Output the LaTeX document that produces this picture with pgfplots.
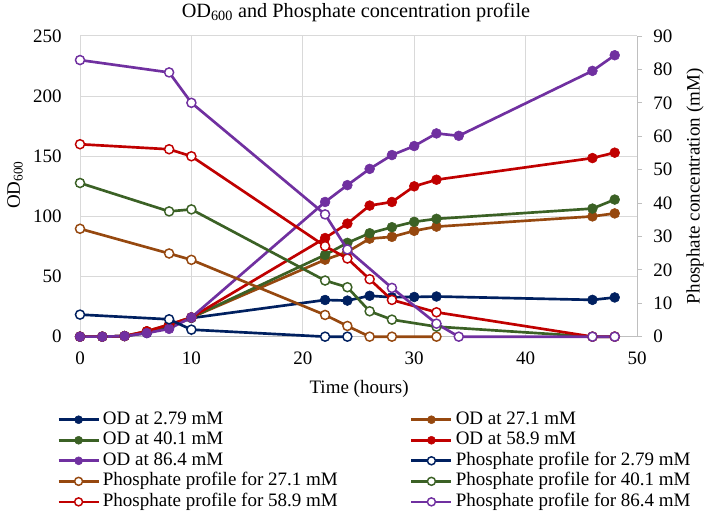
\documentclass[border=0pt]{standalone}
\usepackage{fontspec}
\setmainfont{Liberation Serif}
\usepackage{pgfplots}
\pgfplotsset{compat=1.18}
\definecolor{cNavy}{HTML}{002060}
\definecolor{cBrown}{HTML}{96480F}
\definecolor{cGreen}{HTML}{3B6125}
\definecolor{cRed}{HTML}{C00000}
\definecolor{cPurple}{HTML}{7030A0}
\definecolor{gridc}{HTML}{D9D9D9}
\definecolor{axc}{HTML}{BFBFBF}
\newcommand{\fs}{\fontsize{14.25}{16}\selectfont}
\begin{document}
\begin{tikzpicture}
\useasboundingbox (0,0) rectangle (531.75pt,385.5pt);
\pgfplotsset{
  base/.style={at={(60pt,133pt)}, anchor=south west, scale only axis,
    width=417.75pt, height=225.5pt, xmin=0, xmax=50, clip=false,
    /pgf/number format/assume math mode=true,
    ticklabel style={font=\fs}, label style={font=\fs}},
  od/.style={color=#1, line width=2pt, mark=*, mark size=3.7pt,
    mark options={solid, fill=#1, draw=#1, line width=0.4pt}},
  ph/.style={color=#1, line width=2pt, mark=*, mark size=3.4pt,
    mark options={solid, fill=white, draw=#1, line width=1.1pt}},
}
\begin{axis}[base, ymin=0, ymax=250, ytick distance=50, xtick distance=10,
  axis lines*=left,
  x axis line style={draw=axc, line width=0.75pt},
  y axis line style={draw=none},
  grid=major, major grid style={draw=gridc, line width=0.75pt},
  major tick length=0pt,
  yticklabel style={anchor=east, inner sep=0pt, xshift=-13.5pt},
  xticklabel style={anchor=base, inner sep=0pt, yshift=-21.2pt},
  xlabel={Time (hours)},
  xlabel style={at={(axis description cs:0.501,-0.19)}, anchor=base, inner sep=0pt},
  ylabel={OD\textsubscript{600}},
  ylabel style={at={(axis description cs:-0.1167,0.505)}, anchor=center, inner sep=0pt},
]
\addplot[od=cNavy] coordinates {(0,0)(2,0)(4,0.5)(6,3)(8,8)(10,15.5)(22,30.5)(24,30)(26,34)(28,32.8)(30,33)(32,33.4)(46,30.6)(48,32.6)};
\addplot[od=cBrown] coordinates {(0,0)(2,0)(4,0.5)(6,4.5)(8,10)(10,16)(22,64)(24,70.5)(26,81.5)(28,83)(30,88)(32,91.5)(46,100)(48,102.5)};
\addplot[od=cGreen] coordinates {(0,0)(2,0)(4,0.5)(6,4)(8,9.5)(10,16)(22,68)(24,78)(26,86)(28,91)(30,95.5)(32,98)(46,106.5)(48,114)};
\addplot[od=cRed] coordinates {(0,0)(2,0)(4,0.5)(6,4.5)(8,10)(10,16)(22,82)(24,94)(26,109)(28,112)(30,125)(32,130.5)(46,148.5)(48,153)};
\addplot[od=cPurple] coordinates {(0,0)(2,0)(4,0.5)(6,3)(8,6.5)(10,16)(22,112)(24,126)(26,139.5)(28,151)(30,158.5)(32,169)(34,167)(46,221)(48,234)};
\end{axis}
\begin{axis}[base, ymin=0, ymax=90, ytick distance=10,
  axis x line=none, axis y line*=right,
  y axis line style={draw=axc, line width=0.75pt},
  ytick style={draw=axc, line width=0.75pt},
  tick align=outside, major tick length=3.75pt,
  yticklabel style={anchor=west, inner sep=0pt, xshift=8.25pt},
  ylabel={Phosphate concentration (mM)},
  ylabel style={at={(axis description cs:1.104,0.5)}, anchor=center, inner sep=0pt},
  legend columns=2,
  legend cell align=left,
  legend style={at={(axis description cs:-0.0413,-0.247)}, anchor=north west,
    draw=none, fill=none, inner sep=0pt, font=\fs, row sep=2.6pt,
    nodes={inner sep=0pt, text height=9.8pt, text depth=3pt},
    /tikz/every even column/.append style={column sep=54.25pt},
    /tikz/every odd column/.append style={column sep=2.25pt}},
  legend image code/.code={\draw[mark repeat=2,mark phase=2,#1,mark size=3pt] plot coordinates {(0pt,0pt)(15pt,0pt)(30pt,0pt)};},
]
\addlegendimage{od=cNavy}
\addlegendimage{od=cBrown}
\addlegendimage{od=cGreen}
\addlegendimage{od=cRed}
\addlegendimage{od=cPurple}
\addplot[ph=cNavy] coordinates {(0,6.6)(8,5.2)(10,2.1)(22,0)(24,0)};
\addplot[ph=cBrown] coordinates {(0,32.3)(8,24.9)(10,23)(22,6.5)(24,3.2)(26,0)(28,0)(32,0)};
\addplot[ph=cGreen] coordinates {(0,46)(8,37.5)(10,38.1)(22,16.8)(24,14.8)(26,7.6)(28,5.1)(32,3)(46,0)(48,0)};
\addplot[ph=cRed] coordinates {(0,57.6)(8,56.1)(10,54)(22,27.1)(24,23.4)(26,17.2)(28,11)(32,7.3)(46,0)(48,0)};
\addplot[ph=cPurple] coordinates {(0,82.8)(8,79.1)(10,70)(22,36.6)(24,26.1)(28,14.6)(32,3.9)(34,0)(46,0)(48,0)};
\legend{OD at 2.79 mM, OD at 27.1 mM, OD at 40.1 mM, OD at 58.9 mM, OD at 86.4 mM,
  Phosphate profile for 2.79 mM, Phosphate profile for 27.1 mM,
  Phosphate profile for 40.1 mM, Phosphate profile for 58.9 mM,
  Phosphate profile for 86.4 mM}
\end{axis}
\node[anchor=base, inner sep=0pt, font=\fontsize{15.2}{18}\selectfont] at (267pt,372.5pt)
  {OD\textsubscript{600} and Phosphate concentration profile};
\end{tikzpicture}
\end{document}
